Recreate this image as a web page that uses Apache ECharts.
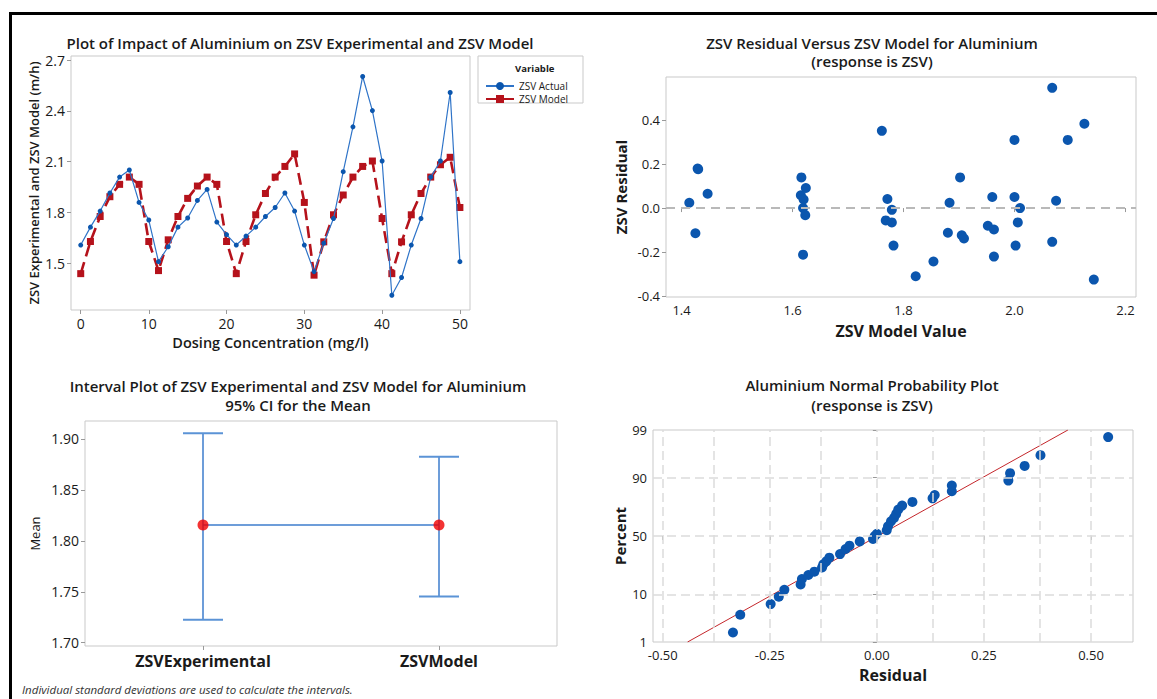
<!DOCTYPE html>
<html>
<head>
<meta charset="utf-8">
<script src="https://cdn.jsdelivr.net/npm/echarts@6/dist/echarts.min.js"></script>
<style>
  html, body { margin: 0; padding: 0; background: #fff; }
  #chart { width: 1157px; height: 699px; }
</style>
</head>
<body>
<div id="chart"></div>
<script>
// ---- top-left: ZSV actual vs model along dosing concentration ----
const concentration = [1.25, 2.5, 3.75, 5, 6.25, 7.5, 8.75, 10, 11.25, 12.5, 13.75, 15, 16.25, 17.5, 18.75, 20,
  21.25, 22.5, 23.75, 25, 26.25, 27.5, 28.75, 30, 31.25, 32.5, 33.75, 35, 36.25, 37.5, 38.75, 40,
  41.25, 42.5, 43.75, 45, 46.25, 47.5, 48.75, 50];
const zsvActual = [1.607, 1.713, 1.808, 1.915, 2.009, 2.051, 1.859, 1.755, 1.509, 1.597, 1.713, 1.767, 1.871, 1.936, 1.743, 1.669,
  1.607, 1.660, 1.713, 1.776, 1.829, 1.915, 1.808, 1.607, 1.450, 1.618, 1.764, 2.041, 2.306, 2.604, 2.402, 2.104,
  1.310, 1.415, 1.607, 1.764, 2.009, 2.104, 2.509, 1.509];
const zsvModel = [1.438, 1.628, 1.776, 1.893, 1.966, 2.009, 1.966, 1.628, 1.456, 1.638, 1.776, 1.883, 1.956, 2.009, 1.966, 1.628,
  1.438, 1.628, 1.786, 1.912, 2.009, 2.072, 2.146, 1.859, 1.429, 1.626, 1.786, 1.903, 2.009, 2.072, 2.104, 1.764,
  1.438, 1.626, 1.786, 1.912, 2.009, 2.082, 2.126, 1.829];
const concTickValues = [1.25, 10, 20, 30, 40, 50];
const concTickLabels = ['0', '10', '20', '30', '40', '50'];
const zsvTicks = [1.5, 1.8, 2.1, 2.4, 2.7];

// ---- top-right: residual versus fitted ----
const fittedValue = [1.414, 1.429, 1.430, 1.447, 1.425, 1.616, 1.615, 1.620, 1.624, 1.619, 1.623, 1.619,
  1.761, 1.771, 1.779, 1.768, 1.779, 1.782, 1.822, 1.854, 1.880, 1.883, 1.902, 1.905, 1.909,
  1.952, 1.960, 1.963, 1.963, 2.000, 2.000, 2.010, 2.006, 2.002, 2.068, 2.075, 2.068, 2.096, 2.126, 2.143];
const residual = [0.024, 0.179, 0.176, 0.065, -0.114, 0.139, 0.058, 0.039, 0.091, 0.000, -0.032, -0.211,
  0.350, 0.041, -0.008, -0.056, -0.065, -0.170, -0.309, -0.242, -0.112, 0.024, 0.139, -0.123, -0.138,
  -0.080, 0.050, -0.097, -0.220, 0.309, 0.050, 0.000, -0.065, -0.170, 0.545, 0.033, -0.153, 0.309, 0.382, -0.324];
const fittedTicks = [1.4, 1.6, 1.8, 2.0, 2.2];
const residualTicks = [-0.4, -0.2, 0.0, 0.2, 0.4];

// ---- bottom-left: 95% CI interval plot ----
const ciCategories = ['ZSVExperimental', 'ZSVModel'];
const ciMean = [1.8156, 1.8156];
const ciLower = [1.7225, 1.7454];
const ciUpper = [1.9056, 1.8824];
const meanTicks = [1.70, 1.75, 1.80, 1.85, 1.90];

// ---- bottom-right: normal probability plot ----
const probResidual = [-0.336, -0.319, -0.248, -0.229, -0.216, -0.178, -0.175, -0.160, -0.146, -0.128, -0.125,
  -0.118, -0.111, -0.086, -0.073, -0.064, -0.040, -0.009, -0.005, 0.000, 0.023, 0.026, 0.033, 0.040, 0.045,
  0.050, 0.059, 0.083, 0.130, 0.135, 0.175, 0.175, 0.307, 0.311, 0.345, 0.382, 0.540];
const probPercent = [1.71, 4.19, 6.75, 9.13, 11.9, 14.4, 17.2, 19.6, 21.7, 24.5, 26.7,
  28.9, 31.7, 34.6, 38.8, 41.6, 45.3, 47.4, 50.0, 52.0, 55.0, 58.4, 62.6, 65.4, 68.6,
  71.9, 74.8, 77.3, 79.6, 81.6, 83.7, 86.6, 88.8, 91.6, 93.8, 96.2, 98.5];
const fitResidual = [-0.442, 0.446];
const fitPercent = [1, 99];
const percentTicks = [1, 10, 50, 90, 99];
const percentGrid = [10, 50, 90];
const probResidTicks = [-0.5, -0.25, 0, 0.25, 0.5];
const probResidGrid = [-0.5, -0.375, -0.25, -0.125, 0, 0.125, 0.25, 0.375, 0.5];

// normal quantile (Acklam) used as the y scale of the probability plot
function probit(p) {
  const a = [-39.69683028665376, 220.9460984245205, -275.9285104469687, 138.3577518672690, -30.66479806614716, 2.506628277459239];
  const b = [-54.47609879822406, 161.5858368580409, -155.6989798598866, 66.80131188771972, -13.28068155288572];
  const c = [-0.007784894002430293, -0.3223964580411365, -2.400758277161838, -2.549671010115381, 4.374664141464968, 2.938163982698783];
  const d = [0.007784695709041462, 0.3224671290700398, 2.445134137142996, 3.754408661907416];
  const pl = 0.02425;
  if (p < pl) {
    const q = Math.sqrt(-2 * Math.log(p));
    return (((((c[0] * q + c[1]) * q + c[2]) * q + c[3]) * q + c[4]) * q + c[5]) / ((((d[0] * q + d[1]) * q + d[2]) * q + d[3]) * q + 1);
  }
  if (p > 1 - pl) {
    const q = Math.sqrt(-2 * Math.log(1 - p));
    return -(((((c[0] * q + c[1]) * q + c[2]) * q + c[3]) * q + c[4]) * q + c[5]) / ((((d[0] * q + d[1]) * q + d[2]) * q + d[3]) * q + 1);
  }
  const q = p - 0.5, r = q * q;
  return (((((a[0] * r + a[1]) * r + a[2]) * r + a[3]) * r + a[4]) * r + a[5]) * q / (((((b[0] * r + b[1]) * r + b[2]) * r + b[3]) * r + b[4]) * r + 1);
}
const pz = (pct) => probit(pct / 100);

const FONT = '"Open Sans", "Noto Sans", sans-serif';
const INK = '#1a1a1a';
const BOX = '#c9c9c9';
const BLUE = '#0b56ae';

function gridBox(left, top, width, height) {
  return { left, top, width, height, show: true, borderColor: BOX, borderWidth: 1, backgroundColor: '#fff', containLabel: false };
}
function valueAxis(gridIndex, min, max, ticks, fmt, extra) {
  return Object.assign({
    type: 'value', gridIndex, min, max, scale: true,
    axisLine: { show: false },
    axisTick: { show: true, customValues: ticks, length: 4, lineStyle: { color: '#999' } },
    axisLabel: { customValues: ticks, formatter: fmt, color: INK, fontSize: 14, fontFamily: FONT, margin: 6 },
    splitLine: { show: false },
    nameLocation: 'middle',
    nameTextStyle: { color: INK, fontFamily: FONT, fontWeight: 'bold', fontSize: 15 }
  }, extra || {});
}
function nearestLabel(values, labels) {
  return (v) => {
    let best = 0;
    values.forEach((t, i) => { if (Math.abs(t - v) < Math.abs(values[best] - v)) best = i; });
    return labels[best];
  };
}

const chart = echarts.init(document.getElementById('chart'), null, { renderer: 'svg' });

const titleText = (x, y, text) => ({
  type: 'text', x, y,
  style: { text, fill: INK, font: '600 15px ' + FONT, align: 'center', verticalAlign: 'middle' }
});

chart.setOption({
  animation: false,
  backgroundColor: '#fff',
  grid: [
    gridBox(71, 56, 399, 254),
    gridBox(666, 77, 470, 220),
    gridBox(85, 421, 472, 225),
    gridBox(653, 430, 480, 212)
  ],
  legend: {
    orient: 'vertical', left: 480, top: 76, itemGap: 3, itemWidth: 28, itemHeight: 10,
    data: ['ZSV Actual', 'ZSV Model'],
    textStyle: { fontSize: 10, fontFamily: FONT, color: INK }
  },
  xAxis: [
    valueAxis(0, 0, 51.3, concTickValues, nearestLabel(concTickValues, concTickLabels), {
      name: 'Dosing Concentration (mg/l)', nameGap: 25,
      nameTextStyle: { color: INK, fontFamily: FONT, fontWeight: 600, fontSize: 14.5 }
    }),
    valueAxis(1, 1.372, 2.219, fittedTicks, (v) => v.toFixed(1), {
      name: 'ZSV Model Value', nameGap: 26,
      axisLabel: { customValues: fittedTicks, formatter: (v) => v.toFixed(1), color: INK, fontSize: 13, fontFamily: FONT, margin: 6 },
      nameTextStyle: { color: INK, fontFamily: FONT, fontWeight: 'bold', fontSize: 16 }
    }),
    {
      type: 'category', gridIndex: 2, data: ciCategories, boundaryGap: true,
      axisLine: { show: false },
      axisTick: { show: true, alignWithLabel: true, length: 4, lineStyle: { color: '#999' } },
      axisLabel: { color: INK, fontFamily: FONT, fontWeight: 'bold', fontSize: 16, margin: 7 }
    },
    valueAxis(3, -0.5227, 0.598, probResidTicks, (v) => v.toFixed(2), {
      name: 'Residual', nameGap: 25,
      axisLabel: { customValues: probResidTicks, formatter: (v) => v.toFixed(2), color: INK, fontSize: 13, fontFamily: FONT, margin: 6 },
      nameTextStyle: { color: INK, fontFamily: FONT, fontWeight: 'bold', fontSize: 16 }
    })
  ],
  yAxis: [
    valueAxis(0, 1.223, 2.725, zsvTicks, (v) => v.toFixed(1), {
      name: 'ZSV Experimental and ZSV Model (m/h)', nameGap: 31,
      nameTextStyle: { color: INK, fontFamily: FONT, fontWeight: 600, fontSize: 13 }
    }),
    valueAxis(1, -0.403, 0.594, residualTicks, (v) => v.toFixed(1), {
      name: 'ZSV Residual', nameGap: 38,
      axisLabel: { customValues: residualTicks, formatter: (v) => v.toFixed(1), color: INK, fontSize: 13, fontFamily: FONT, margin: 6 }
    }),
    valueAxis(2, 1.6968, 1.9176, meanTicks, (v) => v.toFixed(2), {
      name: 'Mean', nameGap: 44,
      nameTextStyle: { color: INK, fontFamily: FONT, fontSize: 13 }
    }),
    valueAxis(3, pz(1), pz(99), percentTicks.map(pz), nearestLabel(percentTicks.map(pz), percentTicks.map(String)), {
      name: 'Percent', nameGap: 26,
      axisLabel: { customValues: percentTicks.map(pz), formatter: nearestLabel(percentTicks.map(pz), percentTicks.map(String)), color: INK, fontSize: 13, fontFamily: FONT, margin: 6 }
    })
  ],
  series: [
    {
      name: 'ZSV Actual', type: 'line', xAxisIndex: 0, yAxisIndex: 0,
      data: concentration.map((c, i) => [c, zsvActual[i]]),
      symbol: 'circle', symbolSize: 5, z: 3,
      lineStyle: { color: '#2f74c8', width: 1.2 },
      itemStyle: { color: BLUE }
    },
    {
      name: 'ZSV Model', type: 'line', xAxisIndex: 0, yAxisIndex: 0,
      data: concentration.map((c, i) => [c, zsvModel[i]]),
      symbol: 'rect', symbolSize: 7, z: 2,
      lineStyle: { color: '#b5121b', width: 2.6, type: [12, 6] },
      itemStyle: { color: '#b5121b' }
    },
    {
      type: 'scatter', xAxisIndex: 1, yAxisIndex: 1,
      data: fittedValue.map((f, i) => [f, residual[i]]),
      symbolSize: 10, itemStyle: { color: BLUE, opacity: 1 },
      markLine: {
        silent: true, symbol: 'none', label: { show: false },
        lineStyle: { color: '#b9b9b9', width: 2, type: [9, 6] },
        data: [{ yAxis: 0 }]
      }
    },
    {
      type: 'line', xAxisIndex: 2, yAxisIndex: 2,
      data: ciMean, symbol: 'none', z: 2,
      lineStyle: { color: '#3d7dcc', width: 1.5 }
    },
    {
      type: 'custom', xAxisIndex: 2, yAxisIndex: 2, z: 3,
      data: ciCategories.map((c, i) => [i, ciLower[i], ciUpper[i]]),
      renderItem: (params, api) => {
        const lo = api.coord([api.value(0), api.value(1)]);
        const hi = api.coord([api.value(0), api.value(2)]);
        const cap = 20;
        const st = { stroke: '#3d7dcc', lineWidth: 1.5 };
        return {
          type: 'group', children: [
            { type: 'line', shape: { x1: lo[0], y1: lo[1], x2: hi[0], y2: hi[1] }, style: st },
            { type: 'line', shape: { x1: hi[0] - cap, y1: hi[1], x2: hi[0] + cap, y2: hi[1] }, style: { stroke: '#5b93d6', lineWidth: 2 } },
            { type: 'line', shape: { x1: lo[0] - cap, y1: lo[1], x2: lo[0] + cap, y2: lo[1] }, style: { stroke: '#5b93d6', lineWidth: 2 } }
          ]
        };
      }
    },
    {
      type: 'scatter', xAxisIndex: 2, yAxisIndex: 2, z: 4,
      data: ciMean, symbolSize: 11, itemStyle: { color: '#f00000' }
    },
    {
      type: 'line', xAxisIndex: 3, yAxisIndex: 3, z: 3,
      data: fitResidual.map((r, i) => [r, pz(fitPercent[i])]),
      symbol: 'none', lineStyle: { color: '#c4262b', width: 1 },
      markLine: {
        silent: true, symbol: 'none', label: { show: false },
        lineStyle: { color: '#dcdcdc', width: 1.5, type: [9, 5] },
        data: probResidGrid.map((v) => ({ xAxis: v })).concat(percentGrid.map((p) => ({ yAxis: pz(p) })))
      }
    },
    {
      type: 'scatter', xAxisIndex: 3, yAxisIndex: 3, z: 4,
      data: probResidual.map((r, i) => [r, pz(probPercent[i])]),
      symbolSize: 10, itemStyle: { color: BLUE, opacity: 1 }
    }
  ],
  graphic: [
    { type: 'rect', shape: { x: 9, y: 12, width: 1148, height: 3 }, style: { fill: '#000' } },
    { type: 'rect', shape: { x: 9, y: 12, width: 3, height: 687 }, style: { fill: '#000' } },
    { type: 'rect', shape: { x: 478, y: 56, width: 105, height: 47 }, style: { fill: 'none', stroke: BOX, lineWidth: 1 } },
    { type: 'text', x: 515, y: 68, style: { text: 'Variable', fill: INK, font: 'bold 9.5px ' + FONT, verticalAlign: 'middle' } },
    titleText(300, 43, 'Plot of Impact of Aluminium on ZSV Experimental and ZSV Model'),
    titleText(872, 43, 'ZSV Residual Versus ZSV Model for Aluminium'),
    titleText(872, 61, '(response is ZSV)'),
    titleText(298, 386, 'Interval Plot of ZSV Experimental and ZSV Model for Aluminium'),
    titleText(298, 405, '95% CI for the Mean'),
    titleText(872, 385, 'Aluminium Normal Probability Plot'),
    titleText(872, 405, '(response is ZSV)'),
    { type: 'text', x: 22, y: 689, style: { text: 'Individual standard deviations are used to calculate the intervals.', fill: '#333', font: 'italic 11.5px ' + FONT, verticalAlign: 'middle' } }
  ]
});
</script>
</body>
</html>
